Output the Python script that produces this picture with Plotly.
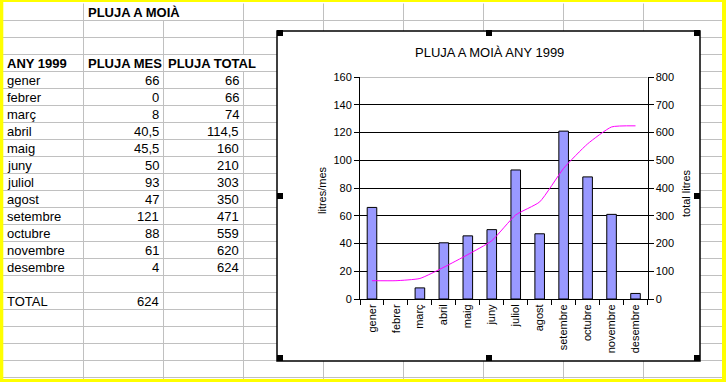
import plotly.graph_objects as go

# ---- data ----
months = ['gener', 'febrer', 'març', 'abril', 'maig', 'juny', 'juliol',
          'agost', 'setembre', 'octubre', 'novembre', 'desembre']
pluja_mes = [66, 0, 8, 40.5, 45.5, 50, 93, 47, 121, 88, 61, 4]
pluja_total = [66, 66, 74, 114.5, 160, 210, 303, 350, 471, 559, 620, 624]
total_any = 624
sheet_title = 'PLUJA A MOIÀ'
headers = ['ANY 1999', 'PLUJA MES', 'PLUJA TOTAL']
chart_title = 'PLUJA A MOIÀ ANY 1999'
left_ticks = [0, 20, 40, 60, 80, 100, 120, 140, 160]
right_ticks = [0, 100, 200, 300, 400, 500, 600, 700, 800]

W, H = 726, 382
FONT = 'Liberation Sans, Arial, sans-serif'


def px(x):
    return x / W


def py(y):
    return 1 - y / H


def fmt(v):
    s = ('%g' % v)
    return s.replace('.', ',')


shapes = []
annotations = []

# ---- spreadsheet grid ----
GRID = '#c0c0c0'
row_h = 17
row_top0 = 3.5
n_rows = 22
col_x = [83.5, 163.5, 243.5, 323.5, 403.5, 483.5, 563.5, 643.5]
for k in range(1, n_rows + 1):
    y = row_top0 + k * row_h
    shapes.append(dict(type='line', xref='paper', yref='paper', x0=px(3), x1=px(722),
                       y0=py(y), y1=py(y), line=dict(color=GRID, width=1), layer='below'))
# vertical lines, skipping cells where text overflows
skip = {(0, 163.5), (3, 243.5)}
for c in col_x:
    for r in range(n_rows + 1):
        if (r, c) in skip:
            continue
        y0 = row_top0 + r * row_h
        y1 = y0 + row_h
        shapes.append(dict(type='line', xref='paper', yref='paper', x0=px(c), x1=px(c),
                           y0=py(max(y0, 2)), y1=py(min(y1, 379)),
                           line=dict(color=GRID, width=1), layer='below'))


def row_center(r):
    return row_top0 + r * row_h + row_h / 2


def cell_text(text, x, r, anchor, bold=False):
    annotations.append(dict(text=('<b>%s</b>' % text) if bold else text,
                            x=px(x), y=py(row_center(r) + 0.5), xref='paper', yref='paper',
                            xanchor=anchor, yanchor='middle', showarrow=False,
                            font=dict(family=FONT, size=13, color='black')))


cell_text(sheet_title, 86, 0, 'left', True)
cell_text(headers[0], 5, 3, 'left', True)
cell_text(headers[1], 86, 3, 'left', True)
cell_text(headers[2], 166, 3, 'left', True)
for i, m in enumerate(months):
    r = 4 + i
    cell_text(m, 5, r, 'left')
    cell_text(fmt(pluja_mes[i]), 161, r, 'right')
    cell_text(fmt(pluja_total[i]), 241, r, 'right')
cell_text('TOTAL', 5, 17, 'left')
cell_text(fmt(total_any), 161, 17, 'right')

# ---- chart box ----
CX0, CX1, CY0, CY1 = 277, 700, 31, 361
shapes.append(dict(type='rect', xref='paper', yref='paper', x0=px(CX0), x1=px(CX1),
                   y0=py(CY1), y1=py(CY0), fillcolor='white',
                   line=dict(color='black', width=1.5), layer='below'))

PX0, PX1, PY0, PY1 = 360, 647.5, 299, 77

# top edge of the plot area drawn in gray
shapes.append(dict(type='line', xref='x domain', yref='y', x0=0, x1=1,
                   y0=left_ticks[-1], y1=left_ticks[-1],
                   line=dict(color='#808080', width=1), layer='above'))

annotations.append(dict(text=chart_title, x=px(489), y=py(52), xref='paper', yref='paper',
                        xanchor='center', yanchor='middle', showarrow=False,
                        font=dict(family=FONT, size=13, color='black')))
annotations.append(dict(text='litres/mes', x=px(322), y=py(190), xref='paper', yref='paper',
                        xanchor='center', yanchor='middle', showarrow=False, textangle=-90,
                        font=dict(family=FONT, size=11, color='black')))
annotations.append(dict(text='total litres', x=px(686), y=py(193), xref='paper', yref='paper',
                        xanchor='center', yanchor='middle', showarrow=False, textangle=-90,
                        font=dict(family=FONT, size=11, color='black')))

# selection handles
for hx, hy in [(CX0, CY0), (489, CY0), (CX1, CY0), (CX0, 196), (CX1, 196),
               (CX0, CY1), (489, CY1), (CX1, CY1)]:
    x0 = min(max(hx - 3, CX0), CX1 - 6)
    y0 = min(max(hy - 3, CY0 - 1), CY1 - 6)
    shapes.append(dict(type='rect', xref='paper', yref='paper', x0=px(x0), x1=px(x0 + 6),
                       y0=py(y0 + 6), y1=py(y0), fillcolor='black',
                       line=dict(color='black', width=0), layer='above'))

# yellow frame
YEL = '#ffff00'
for x0, y0, x1, y1 in [(0, 0, 3.3, H), (0, 0, W, 2), (722, 0, W, H), (0, 379, W, H)]:
    shapes.append(dict(type='rect', xref='paper', yref='paper', x0=px(x0), x1=px(x1),
                       y0=py(y1), y1=py(y0), fillcolor=YEL, line=dict(width=0), layer='above'))

fig = go.Figure()
fig.add_trace(go.Bar(x=months, y=pluja_mes,
                     marker=dict(color='#9999ff',
                                 line=dict(color='black',
                                           width=[1 if v else 0 for v in pluja_mes])),
                     yaxis='y', name='PLUJA MES'))
fig.add_trace(go.Scatter(x=months, y=pluja_total, mode='lines', yaxis='y2',
                         line=dict(color='#ff00ff', width=1, shape='spline', smoothing=0.5),
                         name='PLUJA TOTAL'))

axis_font = dict(family=FONT, size=11, color='black')
fig.update_layout(
    width=W, height=H, autosize=False,
    margin=dict(l=0, r=0, t=0, b=0, pad=0),
    paper_bgcolor='white', plot_bgcolor='rgba(0,0,0,0)',
    showlegend=False, bargap=0.6,
    font=dict(family=FONT, color='black'),
    xaxis=dict(domain=[px(PX0), px(PX1)], type='category', range=[-0.5, 11.5],
               showline=True, linecolor='black', linewidth=1,
               ticks='outside', ticklen=5, tickcolor='black', tickwidth=1,
               tickson='boundaries', tickangle=-90, tickfont=axis_font,
               showgrid=False, zeroline=False, automargin=False, anchor='y'),
    yaxis=dict(domain=[py(PY0), py(PY1)], range=[0, 160], tickvals=left_ticks,
               showline=True, linecolor='black', linewidth=1,
               ticks='outside', ticklen=5, tickcolor='black', tickwidth=1,
               showgrid=True, gridcolor='black', gridwidth=1, zeroline=False,
               tickfont=axis_font, automargin=False, anchor='x'),
    yaxis2=dict(overlaying='y', side='right', range=[0, 800], tickvals=right_ticks,
                showline=True, linecolor='black', linewidth=1,
                ticks='outside', ticklen=5, tickcolor='black', tickwidth=1,
                showgrid=False, zeroline=False, tickfont=axis_font,
                automargin=False, anchor='x'),
    shapes=shapes, annotations=annotations,
)

fig.write_html('out.html', config={'displayModeBar': False},
               post_script="document.body.style.margin='0';document.body.style.padding='0';")
